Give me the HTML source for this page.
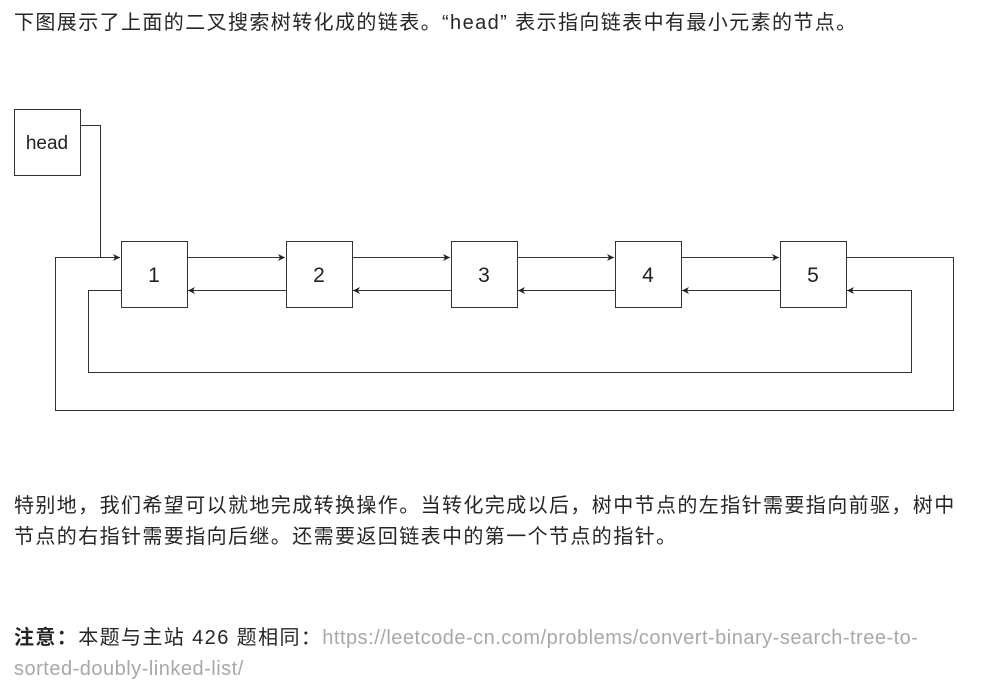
<!DOCTYPE html>
<html><head><meta charset="utf-8"><style>
html,body{margin:0;padding:0;background:#fff;width:997px;height:687px;overflow:hidden}
.t{position:absolute;left:14px;font-family:"Liberation Sans","Noto Sans CJK SC",sans-serif;font-size:20px;color:#262626;letter-spacing:1.4px;white-space:nowrap;line-height:31px}
.g{color:#a8a8a8;letter-spacing:0.5px}
</style></head><body>
<div class="t" style="top:8px">下图展示了上面的二叉搜索树转化成的链表。“head” 表示指向链表中有最小元素的节点。</div>
<svg style="position:absolute;left:0;top:0" width="997" height="687">
<defs><marker id="a" markerWidth="8" markerHeight="8" refX="7" refY="4" orient="auto" markerUnits="userSpaceOnUse"><path d="M0,0.5 L7,4 L0,7.5 L2,4z" fill="#222"/></marker></defs>
<g fill="#fff" stroke="#333" stroke-width="1">
<rect x="14.5" y="109.5" width="66" height="66"/>
<rect x="121.5" y="241.5" width="66" height="66"/>
<rect x="286.5" y="241.5" width="66" height="66"/>
<rect x="451.5" y="241.5" width="66" height="66"/>
<rect x="615.5" y="241.5" width="66" height="66"/>
<rect x="780.5" y="241.5" width="66" height="66"/>
</g>
<path d="M80.5 125.5 H100.5 V257.5" fill="none" stroke="#333"/>
<g fill="none" stroke="#333" stroke-width="1" marker-end="url(#a)">
<path d="M187.5 257.5 H285"/><path d="M352.5 257.5 H450"/><path d="M517.5 257.5 H614"/><path d="M681.5 257.5 H779"/>
<path d="M286.5 290.5 H188"/><path d="M451.5 290.5 H353"/><path d="M615.5 290.5 H518"/><path d="M780.5 290.5 H682"/>
<path d="M846.5 257.5 H953.5 V410.5 H55.5 V257.5 H120"/>
<path d="M121.5 290.5 H88.5 V372.5 H911.5 V290.5 H847"/>
</g>
<g font-family="Liberation Sans,sans-serif" font-size="21" fill="#222" text-anchor="middle">
<text x="47" y="149" font-size="19">head</text>
<text x="154" y="282">1</text><text x="319" y="282">2</text><text x="484" y="282">3</text><text x="648" y="282">4</text><text x="813" y="282">5</text>
</g>
</svg>
<div class="t" style="top:491px">特别地，我们希望可以就地完成转换操作。当转化完成以后，树中节点的左指针需要指向前驱，树中<br>节点的右指针需要指向后继。还需要返回链表中的第一个节点的指针。</div>
<div class="t" style="top:623px"><b>注意：</b>本题与主站 426 题相同：<span class="g">https://leetcode-cn.com/problems/convert-binary-search-tree-to-</span><br><span class="g">sorted-doubly-linked-list/</span></div>
</body></html>
